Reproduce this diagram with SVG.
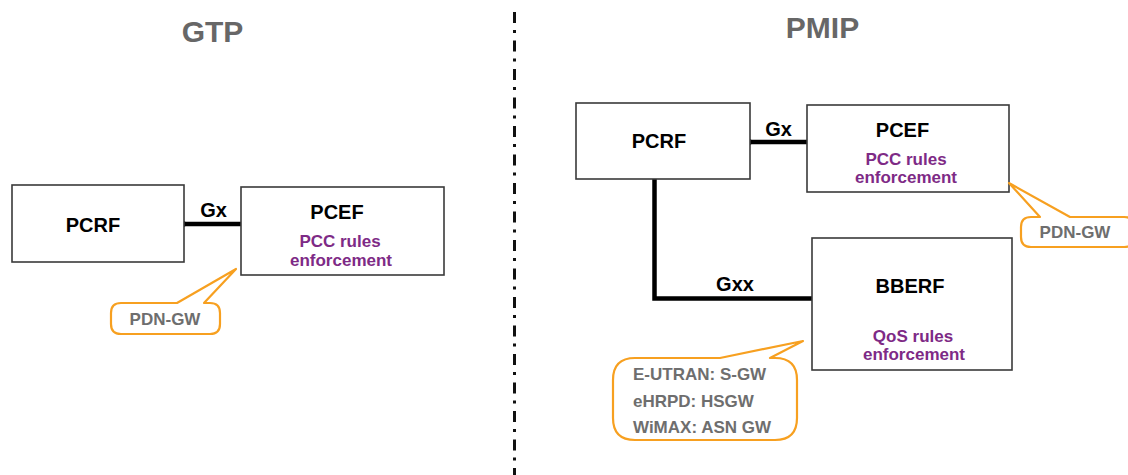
<svg xmlns="http://www.w3.org/2000/svg" width="1128" height="475" viewBox="0 0 1128 475">
<style>
text{font-family:"Liberation Sans",Arial,sans-serif;font-weight:bold}
.box{fill:#fff;stroke:#3a3a3a;stroke-width:1.6}
.name{font-size:20px;fill:#000;text-anchor:middle}
.sub{font-size:17px;fill:#7e2a86;text-anchor:middle}
.title{font-size:30px;fill:#676767;text-anchor:middle}
.call{fill:#fff;stroke:#f7a020;stroke-width:2.2;stroke-linejoin:round}
.ct{font-size:17px;fill:#6e6e6e}
.link{fill:none;stroke:#000;stroke-width:4.5;stroke-linecap:round}
.lbl{font-size:20px;fill:#000;text-anchor:middle}
</style>
<rect width="1128" height="475" fill="#fff"/>
<g id="titles">
<text class="title" x="212.5" y="42">GTP</text>
<text class="title" x="822.5" y="38">PMIP</text>
</g>
<line id="divider" x1="514.5" y1="12" x2="514.5" y2="475" stroke="#111" stroke-width="3" stroke-dasharray="11 7 3 7.5"/>
<g id="connectors">
<path class="link" d="M182,224 L241,224" stroke-linecap="butt"/>
<circle cx="183" cy="224" r="3" fill="#000"/>
<text class="lbl" x="213.5" y="217">Gx</text>
<path class="link" d="M749,142 L807,142" stroke-linecap="butt"/>
<circle cx="749" cy="142" r="3" fill="#000"/>
<text class="lbl" x="778.5" y="136">Gx</text>
<path class="link" d="M654.5,179 L654.5,298.5 L812,298.5" stroke-linecap="butt" stroke-linejoin="miter"/>
<text class="lbl" x="735" y="291">Gxx</text>
</g>
<g id="gtp-pcrf">
<rect class="box" x="12" y="185" width="172" height="77"/>
<text class="name" x="93" y="232">PCRF</text>
</g>
<g id="gtp-pcef">
<rect class="box" x="241" y="187" width="203" height="88"/>
<text class="name" x="337" y="219">PCEF</text>
<text class="sub" x="340" y="247">PCC rules</text>
<text class="sub" x="341" y="266">enforcement</text>
</g>
<g id="gtp-pdngw">
<path class="call" d="M121,303 L177,303 L236,269 L204,303 L210,303 Q220,303 220,313 L220,324 Q220,334 210,334 L121,334 Q111,334 111,324 L111,313 Q111,303 121,303 Z"/>
<text class="ct" x="165" y="325" text-anchor="middle">PDN-GW</text>
</g>
<g id="pmip-pcrf">
<rect class="box" x="576" y="103" width="174" height="76"/>
<text class="name" x="659" y="148">PCRF</text>
</g>
<g id="pmip-pcef">
<rect class="box" x="807" y="105" width="202" height="87"/>
<text class="name" x="902.5" y="137">PCEF</text>
<text class="sub" x="906" y="165">PCC rules</text>
<text class="sub" x="906" y="183">enforcement</text>
</g>
<g id="pmip-pdngw">
<path class="call" d="M1031,217 L1040,217 L1009,183 L1070,217 L1124,217 Q1134,217 1134,227 L1134,237 Q1134,247 1124,247 L1031,247 Q1021,247 1021,237 L1021,227 Q1021,217 1031,217 Z"/>
<text class="ct" x="1075" y="238" text-anchor="middle">PDN-GW</text>
</g>
<g id="pmip-bberf">
<rect class="box" x="812" y="238" width="200" height="132"/>
<text class="name" x="910" y="293">BBERF</text>
<text class="sub" x="913" y="342">QoS rules</text>
<text class="sub" x="914" y="360">enforcement</text>
</g>
<g id="pmip-gw">
<path class="call" d="M635,358 L720,358 L803,341 L770,358 L775,358 Q797,358 797,380 L797,418 Q797,440 775,440 L635,440 Q613,440 613,418 L613,380 Q613,358 635,358 Z"/>
<text class="ct" x="633" y="380">E-UTRAN: S-GW</text>
<text class="ct" x="633" y="407">eHRPD: HSGW</text>
<text class="ct" x="633" y="433">WiMAX: ASN GW</text>
</g>
</svg>
